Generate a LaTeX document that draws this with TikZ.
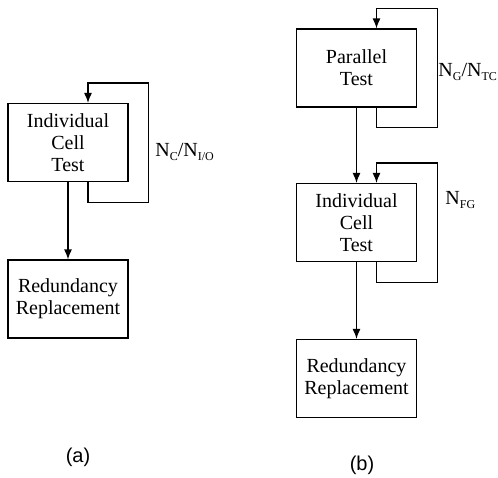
\documentclass[tikz,border=0pt]{standalone}
\usepackage{fontspec}
\setmainfont{Liberation Serif}
\newfontfamily\capfont{Liberation Sans}
\usetikzlibrary{arrows.meta}
\newcommand\lsub[1]{\raisebox{-0.35ex}{\fontsize{6}{7}\selectfont #1}}
\tikzset{
    block/.style={draw, line width=0.6pt, minimum width=60pt, minimum height=39pt,
        align=center, font=\fontsize{10}{11}\selectfont, inner sep=1pt},
    arr/.style={line width=0.6pt, -{Latex[length=5pt,width=4pt]}},
    lbl/.style={font=\fontsize{10}{11}\selectfont, inner sep=0pt},
    caplabel/.style={font=\capfont\fontsize{10}{12}\selectfont}
}
\begin{document}
\begin{tikzpicture}[x=0.5pt,y=-0.5pt]
    \useasboundingbox (0,0) rectangle (498,477);

    % (a)
    \node[block] (aict) at (68,142.5) {Individual\\Cell\\Test};
    \node[block] (ared) at (68,299) {Redundancy\\Replacement};
    \draw[arr] (aict.south) -- (ared.north);
    \draw[arr] ([xshift=10pt]aict.south) -- ++(0,-10pt)
        -| ([xshift=10pt,yshift=10pt]aict.north east) -| ([xshift=10pt]aict.north);
    \node[lbl,anchor=west] (alb) at (155,152) {N\lsub{C}/N\lsub{I/O}};
    \node[caplabel] (acap) at (78,457) {(a)};

    % (b)
    \node[block] (bpar) at (356.5,68) {Parallel\\Test};
    \node[block] (bict) at (356.5,222.5) {Individual\\Cell\\Test};
    \node[block] (bred) at (356.5,378.5) {Redundancy\\Replacement};
    \draw[arr] (bpar.south) -- (bict.north);
    \draw[arr] (bict.south) -- (bred.north);
    \draw[arr] ([xshift=10pt]bpar.south) -- ++(0,-10pt)
        -| ([xshift=10pt,yshift=10pt]bpar.north east) -| ([xshift=10pt]bpar.north);
    \draw[arr] ([xshift=10pt]bict.south) -- ++(0,-10pt)
        -| ([xshift=10pt,yshift=10pt]bict.north east) -| ([xshift=10pt]bict.north);
    \node[lbl,anchor=west] (blb) at (438,72) {N\lsub{G}/N\lsub{TC}};
    \node[lbl,anchor=west] (bfg) at (445,200) {N\lsub{FG}};
    \node[caplabel] (bcap) at (362,465) {(b)};
\end{tikzpicture}
\end{document}
